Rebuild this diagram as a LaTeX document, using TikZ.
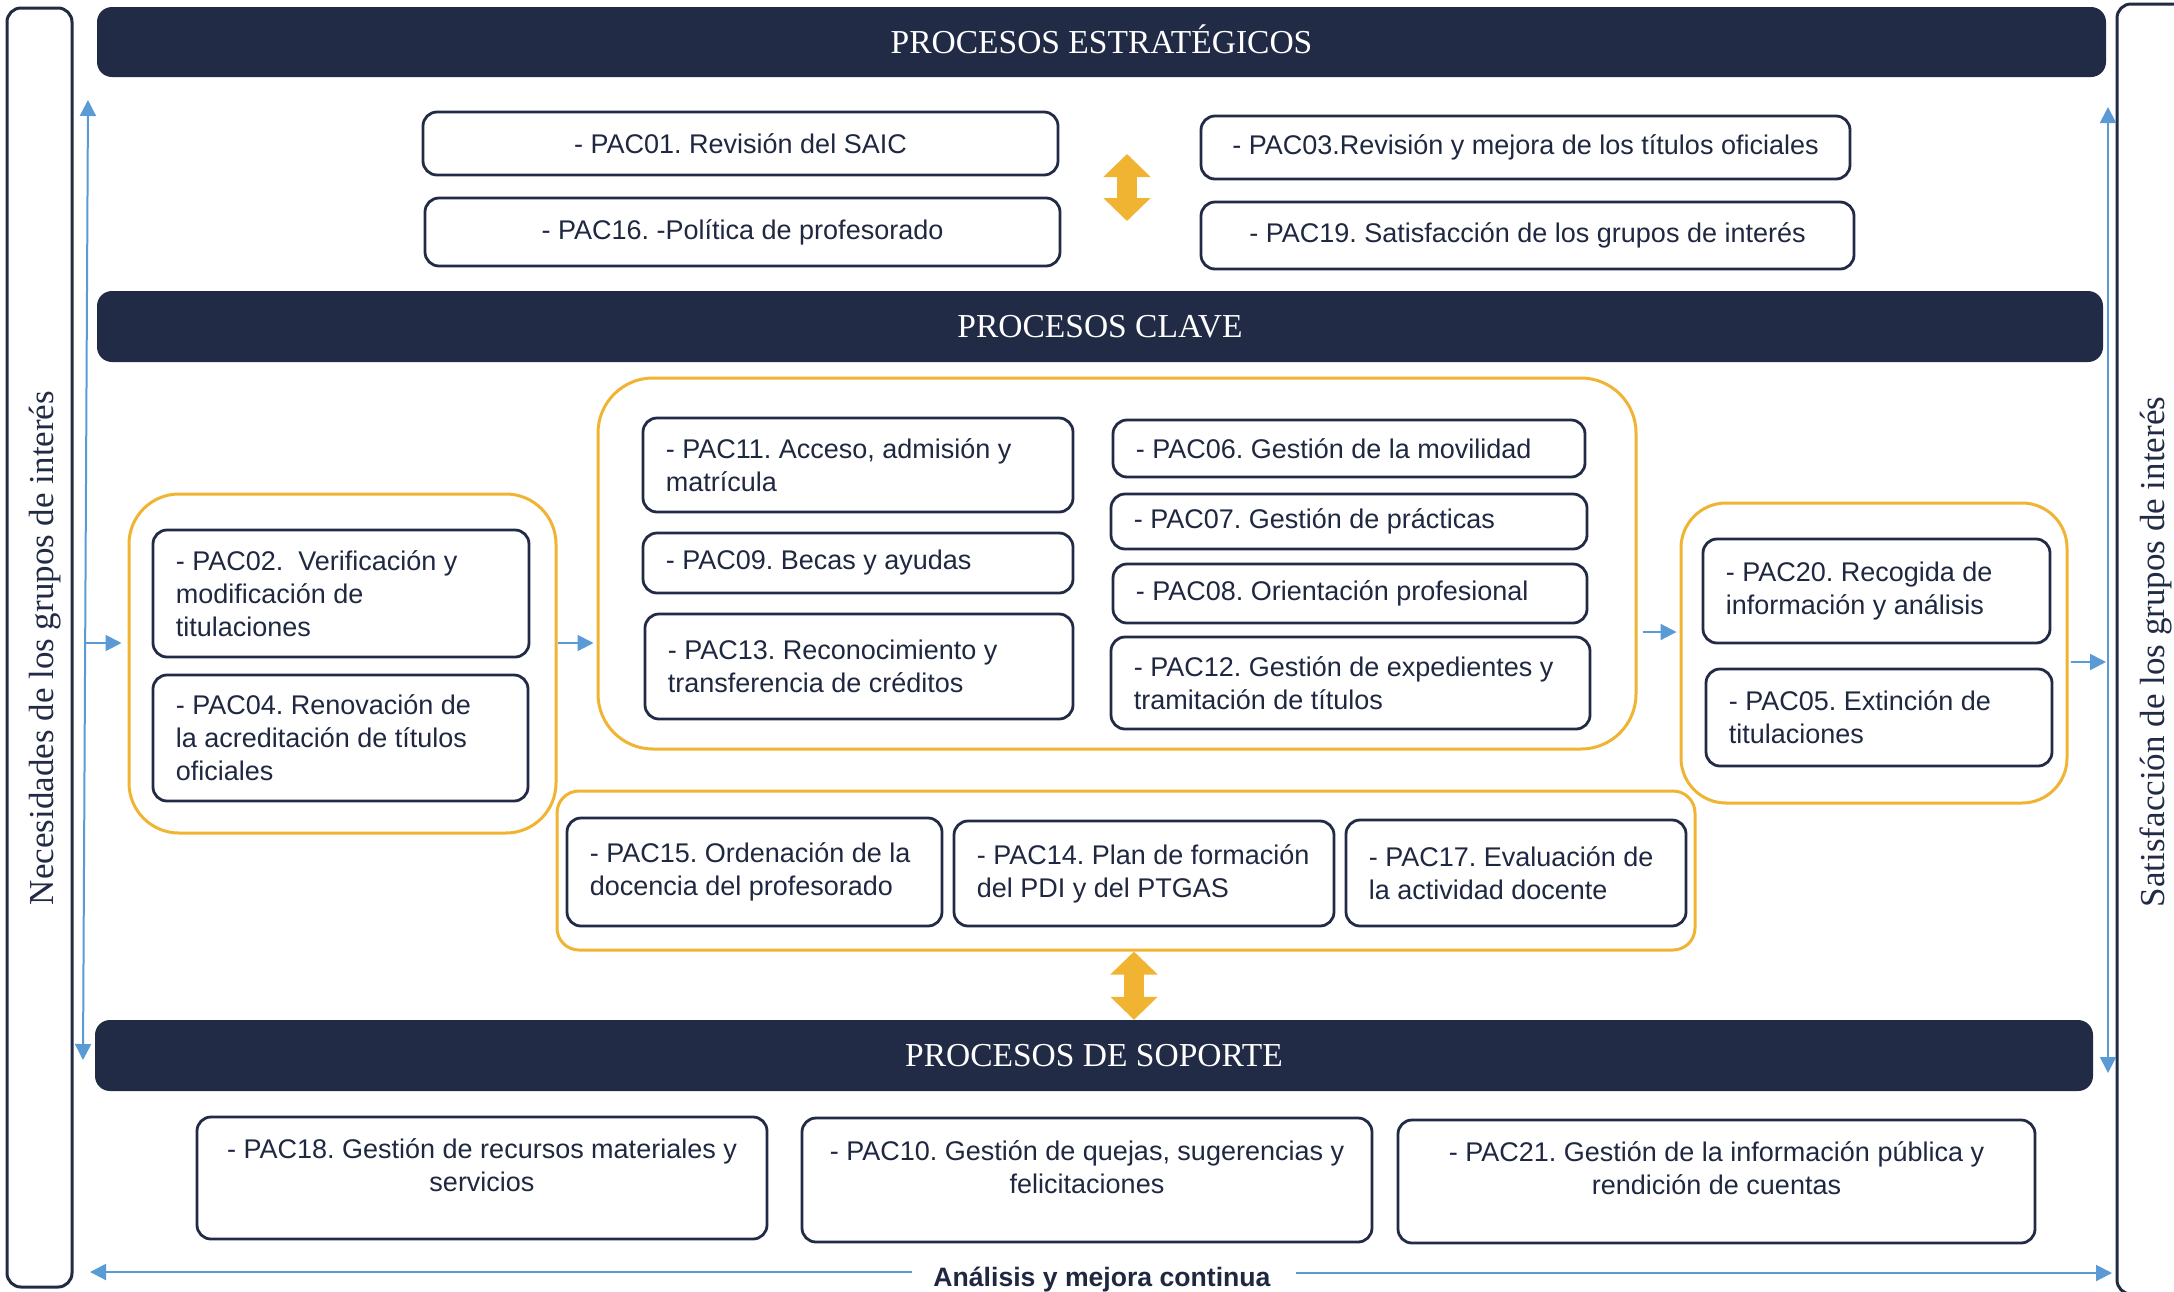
\documentclass[tikz,border=0pt]{standalone}
\usepackage{fontspec}
\setmainfont{Liberation Serif}
\setsansfont{Liberation Sans}
\usetikzlibrary{arrows.meta}
\definecolor{navy}{HTML}{222B46}
\definecolor{orng}{HTML}{F0B432}
\definecolor{blu}{HTML}{5B9BD5}
\definecolor{txtc}{HTML}{1F2840}
\newcommand\pacL[6]{%
 \node[pbox, minimum width=#4pt, minimum height=#5pt] (#1) at (#2,#3) {};
 \node[ptxt, anchor=west] (#1t) at ([xshift=24pt]#1.west) {#6};}
\newcommand\pacC[7]{%
 \node[pbox, minimum width=#4pt, minimum height=#5pt] (#1) at (#2,#3) {};
 \node[ptxt, align=center] (#1t) at ([yshift=#6pt]#1.center) {#7};}
\tikzset{
 pbox/.style={draw=navy, line width=2.8pt, rounded corners=14pt, fill=white, inner sep=0pt},
 ptxt/.style={inner sep=0pt, text=txtc, font=\sffamily\fontsize{27}{33}\selectfont\frenchspacing, align=left},
 grp/.style={draw=orng, line width=3pt, inner sep=0pt},
 hdr/.style={fill=navy, rounded corners=15pt, text=white, font=\fontsize{33.5}{38}\selectfont, inner sep=0pt, text height=22pt, text depth=0pt},
 side/.style={draw=navy, line width=3pt, rounded corners=14pt, inner sep=0pt},
 sidetxt/.style={text=navy, font=\fontsize{35}{40}\selectfont, rotate=90, inner sep=0pt},
 barrow/.style={draw=blu, line width=2pt, -{Triangle[length=16pt,width=16pt]}},
 bboth/.style={draw=blu, line width=2pt, {Triangle[length=16pt,width=16pt]}-{Triangle[length=16pt,width=16pt]}},
 oarrow/.style={draw=orng, line width=20pt, {Triangle[length=23pt,width=46pt]}-{Triangle[length=23pt,width=46pt]}},
}
\begin{document}
\frenchspacing
\begin{tikzpicture}[x=1pt,y=-1pt]
\useasboundingbox[fill=white] (0,0) rectangle (2174,1291);
% side frames
\node[side, minimum width=65pt, minimum height=1279pt] (sideL) at (39.5,647.5) {};
\node[side, minimum width=83pt, minimum height=1290pt] (sideR) at (2158.5,649) {};
\node[sidetxt, anchor=base] (sl) at (53,648) {Necesidades de los grupos de interés};
\node[sidetxt, anchor=base] (sr) at (2164,652) {Satisfacción de los grupos de interés};
% headers
\node[hdr, minimum width=2009pt, minimum height=70pt] (h1) at (1101.5,42) {PROCESOS ESTRATÉGICOS};
\node[hdr, minimum width=2006pt, minimum height=71pt] (h2) at (1100,326.5) {PROCESOS CLAVE};
\node[hdr, minimum width=1998pt, minimum height=71pt] (h3) at (1094,1055.5) {PROCESOS DE SOPORTE};
% strategic
\pacC{p01}{740.5}{143.5}{635}{63}{0}{- PAC01. Revisión del SAIC}
\pacC{p16}{742.5}{232}{635}{68}{0}{- PAC16. -Política de profesorado}
\pacC{p03}{1525.5}{147.5}{649}{63}{0}{- PAC03.Revisión y mejora de los títulos oficiales}
\pacC{p19}{1527.5}{235.5}{653}{67}{0}{- PAC19. Satisfacción de los grupos de interés}
\coordinate (oT1) at (1127,154);
\coordinate (oT2) at (1127,221);
\draw[oarrow] (oT1) -- (oT2);
% groups
\node[grp, rounded corners=50pt, minimum width=427pt, minimum height=339pt] (gL) at (342.5,663.5) {};
\node[grp, rounded corners=55pt, minimum width=1038pt, minimum height=371pt] (gC) at (1117,563.5) {};
\node[grp, rounded corners=45pt, minimum width=386pt, minimum height=300pt] (gR) at (1874,653) {};
\node[grp, rounded corners=22pt, minimum width=1138pt, minimum height=159pt] (gB) at (1126,870.5) {};
% key processes
\pacL{p02}{341}{593.5}{376}{127}{- PAC02.~ Verificación y\\modificación de\\titulaciones}
\pacL{p04}{340.5}{738}{375}{126}{- PAC04. Renovación de\\la acreditación de títulos\\oficiales}
\pacL{p11}{858}{465}{430}{94}{- PAC11. Acceso, admisión y\\matrícula}
\pacL{p09}{858}{563}{430}{60}{- PAC09. Becas y ayudas}
\pacL{p13}{859}{666.5}{428}{105}{- PAC13. Reconocimiento y\\transferencia de créditos}
\pacL{p06}{1349}{448.5}{472}{57}{- PAC06. Gestión de la movilidad}
\pacL{p07}{1349}{521.5}{476}{55}{- PAC07. Gestión de prácticas}
\pacL{p08}{1350}{593.5}{474}{59}{- PAC08. Orientación profesional}
\pacL{p12}{1350.5}{683}{479}{92}{- PAC12. Gestión de expedientes y\\tramitación de títulos}
\pacL{p20}{1876.5}{591}{347}{104}{- PAC20. Recogida de\\información y análisis}
\pacL{p05}{1879}{717.5}{346}{97}{- PAC05. Extinción de\\titulaciones}
\pacL{p15}{754.5}{872}{375}{108}{- PAC15. Ordenación de la\\docencia del profesorado}
\pacL{p14}{1144}{873.5}{380}{105}{- PAC14. Plan de formación\\del PDI y del PTGAS}
\pacL{p17}{1516}{873}{340}{106}{- PAC17. Evaluación de\\la actividad docente}
% support
\pacC{p18}{482}{1178}{570}{122}{13}{- PAC18. Gestión de recursos materiales y\\servicios}
\pacC{p10}{1087}{1180}{570}{124}{13}{- PAC10. Gestión de quejas, sugerencias y\\felicitaciones}
\pacC{p21}{1716.5}{1181.5}{637}{123}{13}{- PAC21. Gestión de la información pública y\\rendición de cuentas}
\coordinate (oBx) at (1134,0);
\draw[oarrow] (gB.south -| oBx) -- (h3.north -| oBx);
% blue arrows
\coordinate (nTop) at (88,100);
\coordinate (nBot) at (83,1060);
\draw[bboth] (nTop) -- (nBot);
\coordinate (sTop) at (2108,107);
\coordinate (sBot) at (2108,1073);
\draw[bboth] (sTop) -- (sBot);
\coordinate (nMid) at (85.2,643);
\coordinate (yA) at (0,643);
\coordinate (yB) at (0,632);
\coordinate (yC) at (0,662);
\coordinate (sMid) at (2108,662);
\draw[barrow, shorten >=6pt] (nMid) -- (gL.west |- yA);
\draw[barrow, shorten >=3pt] (gL.east |- yA) -- (gC.west |- yA);
\draw[barrow, shorten <=5pt, shorten >=3pt] (gC.east |- yB) -- (gR.west |- yB);
\draw[barrow, shorten <=2pt, shorten >=2pt] (gR.east |- yC) -- (sMid);
% bottom
\node[font=\sffamily\bfseries\fontsize{26.6}{32}\selectfont, text=txtc, anchor=base, inner sep=0pt] (an) at (1102,1286) {Análisis y mejora continua};
\coordinate (anL) at (90,1272);
\coordinate (anR) at (2112,1273);
\draw[barrow, shorten <=21pt] (an.west |- anL) -- (anL);
\draw[barrow, shorten <=25pt] (an.east |- anR) -- (anR);
\end{tikzpicture}
\end{document}
